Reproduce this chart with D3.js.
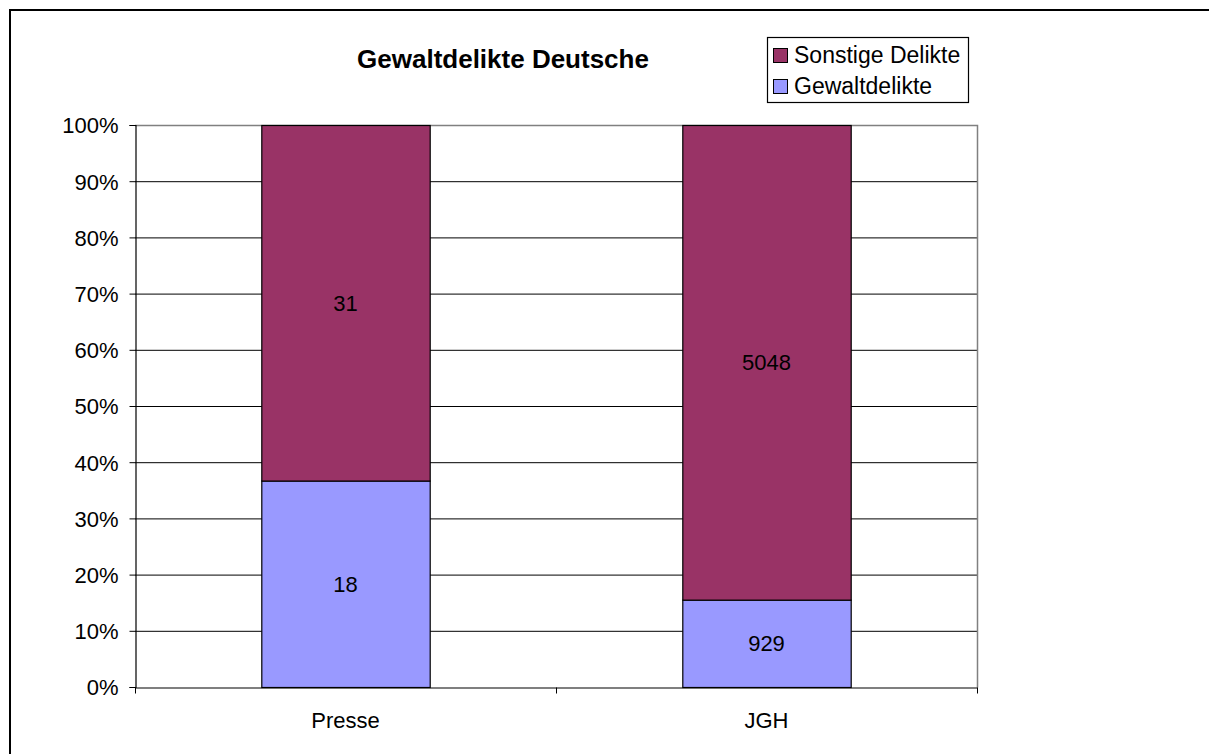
<!DOCTYPE html>
<html>
<head>
<meta charset="utf-8">
<script src="https://cdn.jsdelivr.net/npm/d3@7"></script>
<style>
  body { margin: 0; background: #fff; }
  text { font-family: "Liberation Sans", Arial, sans-serif; fill: #000; }
</style>
</head>
<body>
<div id="chart"></div>
<script>
const categories = ["Presse", "JGH"]
const gewaltdelikte = [18, 929]
const sonstigeDelikte = [31, 5048]
const seriesNames = ["Sonstige Delikte", "Gewaltdelikte"]
const yTicks = [0, 0.1, 0.2, 0.3, 0.4, 0.5, 0.6, 0.7, 0.8, 0.9, 1]

const colours = {Gewaltdelikte: "#9999ff", "Sonstige Delikte": "#993366"}

const width = 1209
const height = 754
const plot = {left: 135, right: 977, top: 125, bottom: 687}

const svg = d3.select("#chart")
  .append("svg")
  .attr("width", width)
  .attr("height", height)

// outer frame (only top/left visible in the crop)
svg.append("rect")
  .attr("x", 10).attr("y", 10)
  .attr("width", width + 20).attr("height", height + 20)
  .attr("fill", "none")
  .attr("stroke", "#000")
  .attr("stroke-width", 2)

const rows = categories.map((c, i) => {
  const total = gewaltdelikte[i] + sonstigeDelikte[i]
  return {category: c, Gewaltdelikte: gewaltdelikte[i] / total, "Sonstige Delikte": sonstigeDelikte[i] / total,
    raw: {Gewaltdelikte: gewaltdelikte[i], "Sonstige Delikte": sonstigeDelikte[i]}}
})

const x = d3.scaleBand()
  .domain(categories)
  .range([plot.left, plot.right])
  .paddingInner(0.6)
  .paddingOuter(0.3)

const y = d3.scaleLinear()
  .domain([0, 1])
  .range([plot.bottom, plot.top])

// Grid lines
svg.append("g")
  .selectAll("line")
  .data(yTicks.slice(1, -1))
  .enter()
  .append("line")
  .attr("x1", plot.left).attr("x2", plot.right)
  .attr("y1", d => y(d) + 0.5).attr("y2", d => y(d) + 0.5)
  .attr("stroke", "#000")
  .attr("stroke-width", 1)

// Plot border (grey)
svg.append("path")
  .attr("d", `M${plot.left},${plot.top + 0.5}H${plot.right + 0.5}V${plot.bottom + 0.5}`)
  .attr("fill", "none")
  .attr("stroke", "#808080")
  .attr("stroke-width", 1.5)

// Stacked bars
const stack = d3.stack().keys(["Gewaltdelikte", "Sonstige Delikte"])
const layers = stack(rows)

const layer = svg.append("g")
  .selectAll("g")
  .data(layers)
  .enter()
  .append("g")
  .attr("fill", d => colours[d.key])

layer.selectAll("rect")
  .data(d => d.map(p => Object.assign(p, {key: d.key})))
  .enter()
  .append("rect")
  .attr("x", d => x(d.data.category) + 0.5)
  .attr("y", d => y(d[1]) + 0.5)
  .attr("width", x.bandwidth())
  .attr("height", d => y(d[0]) - y(d[1]))
  .attr("stroke", "#000")
  .attr("stroke-width", 1.2)

layer.selectAll("text")
  .data(d => d)
  .enter()
  .append("text")
  .attr("x", d => x(d.data.category) + x.bandwidth() / 2)
  .attr("y", d => (y(d[0]) + y(d[1])) / 2 + 8)
  .attr("text-anchor", "middle")
  .style("font-size", "22px")
  .text(d => d.data.raw[d.key])

// Axes
const yAxis = svg.append("g")
  .attr("transform", `translate(${plot.left + 0.5},0)`)
  .call(d3.axisLeft(y).tickValues(yTicks).tickFormat(d3.format(".0%")).tickSize(6).tickPadding(11))
yAxis.selectAll("text").style("font-size", "22px").attr("dy", "0.36em")
yAxis.select(".domain").attr("stroke", "#000").attr("stroke-width", 1.2)

const xAxis = svg.append("g")
  .attr("transform", `translate(0,${plot.bottom + 0.5})`)
  .call(d3.axisBottom(x).tickSize(0).tickPadding(25))
xAxis.selectAll("text").style("font-size", "22px")
xAxis.select(".domain").attr("stroke", "#000").attr("stroke-width", 1.2)
xAxis.selectAll("line.sep")
  .data([plot.left, (plot.left + plot.right) / 2, plot.right])
  .enter()
  .append("line")
  .attr("x1", d => d + 0.5).attr("x2", d => d + 0.5)
  .attr("y1", 0).attr("y2", 6)
  .attr("stroke", "#000")

// Title
svg.append("text")
  .attr("x", 503)
  .attr("y", 68)
  .attr("text-anchor", "middle")
  .style("font-size", "26px")
  .style("font-weight", "bold")
  .text("Gewaltdelikte Deutsche")

// Legend
const legend = svg.append("g").attr("transform", "translate(767,37)")
legend.append("rect")
  .attr("x", 0.5).attr("y", 0.5)
  .attr("width", 201).attr("height", 65)
  .attr("fill", "#fff")
  .attr("stroke", "#000")
  .attr("stroke-width", 1.2)

const item = legend.selectAll("g.item")
  .data(seriesNames)
  .enter()
  .append("g")
  .attr("transform", (d, i) => `translate(0,${18 + i * 31})`)
item.append("rect")
  .attr("x", 6.5).attr("y", -6.5)
  .attr("width", 14).attr("height", 14)
  .attr("fill", d => colours[d])
  .attr("stroke", "#000")
item.append("text")
  .attr("x", 27)
  .attr("y", 8)
  .style("font-size", "23px")
  .text(d => d)
</script>
</body>
</html>
